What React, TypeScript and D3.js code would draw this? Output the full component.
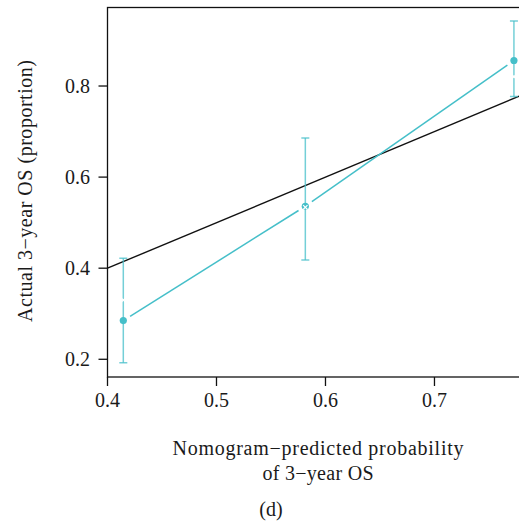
import React from "react";
import * as d3 from "d3";

const predicted = [0.4145, 0.5815, 0.7729];
const observed = [0.285, 0.536, 0.856];
const lower = [0.1925, 0.418, 0.777];
const upper = [0.422, 0.686, 0.943];
const apparent = [0.33, 0.5336, 0.8204];
const xTicks = [0.4, 0.5, 0.6, 0.7];
const yTicks = [0.2, 0.4, 0.6, 0.8];

const W = 519;
const H = 524;
const CYAN = "#45bfc9";
const FONT = "'Liberation Serif', 'Times New Roman', serif";

export default function App() {
  const x = d3.scaleLinear().domain([0.4, 0.787]).range([107.5, 529.3]);
  const y = d3.scaleLinear().domain([0.1611, 0.9724]).range([377, 7.5]);
  const [x0, x1] = x.range();
  const [yb, yt] = y.range();

  const pts = predicted.map((p, i) => ({ px: x(p), py: y(observed[i]) }));
  const gap = 8;
  const segs = pts.slice(0, -1).map((a, i) => {
    const b = pts[i + 1];
    const dx = b.px - a.px;
    const dy = b.py - a.py;
    const len = Math.hypot(dx, dy);
    const ux = dx / len;
    const uy = dy / len;
    return {
      x1: a.px + ux * gap,
      y1: a.py + uy * gap,
      x2: b.px - ux * gap,
      y2: b.py - uy * gap,
    };
  });

  const diag = d3.line<number>().x((v) => x(v)).y((v) => y(v));

  return (
    <svg
      width={W}
      height={H}
      style={{ position: "absolute", left: 0, top: 0, background: "#fff" }}
      fontFamily={FONT}
    >
      <defs>
        <clipPath id="plotclip">
          <rect x={x0} y={yt} width={x1 - x0} height={yb - yt} />
        </clipPath>
      </defs>
      <g clipPath="url(#plotclip)">
        <path d={diag([0.4, 0.787]) || ""} stroke="#111" strokeWidth={1.4} fill="none" />
        {segs.map((s, i) => (
          <line key={i} {...s} stroke={CYAN} strokeWidth={1.5} />
        ))}
        {predicted.map((p, i) => (
          <g key={i} stroke={CYAN} strokeOpacity={0.75} strokeWidth={1.5}>
            <line x1={x(p)} x2={x(p)} y1={y(lower[i])} y2={y(upper[i])} />
            <line x1={x(p) - 4} x2={x(p) + 4} y1={y(lower[i])} y2={y(lower[i])} />
            <line x1={x(p) - 4} x2={x(p) + 4} y1={y(upper[i])} y2={y(upper[i])} />
          </g>
        ))}
        {pts.map((p, i) => (
          <circle key={i} cx={p.px} cy={p.py} r={3.6} fill={CYAN} />
        ))}
        {predicted.map((p, i) => {
          const cx = x(p);
          const cy = y(apparent[i]);
          const s = 2.2;
          return (
            <g key={i} stroke="#fff" strokeWidth={1.2}>
              <line x1={cx - s} y1={cy - s} x2={cx + s} y2={cy + s} />
              <line x1={cx - s} y1={cy + s} x2={cx + s} y2={cy - s} />
            </g>
          );
        })}
      </g>
      <rect x={x0} y={yt} width={x1 - x0} height={yb - yt} fill="none" stroke="#111" strokeWidth={1.3} />
      {xTicks.map((t) => (
        <g key={t}>
          <line x1={x(t)} x2={x(t)} y1={yb} y2={yb + 9} stroke="#111" strokeWidth={1.3} />
          <text x={x(t)} y={407} textAnchor="middle" fontSize={20} fill="#1a1a1a">
            {t.toFixed(1)}
          </text>
        </g>
      ))}
      {yTicks.map((t) => (
        <g key={t}>
          <line x1={x0 - 9} x2={x0} y1={y(t)} y2={y(t)} stroke="#111" strokeWidth={1.3} />
          <text x={90} y={y(t)} dy="0.33em" textAnchor="end" fontSize={20} fill="#1a1a1a">
            {t.toFixed(1)}
          </text>
        </g>
      ))}
      <text x={318} y={455} textAnchor="middle" fontSize={20} fill="#1a1a1a" textLength={291} lengthAdjust="spacing">
        Nomogram−predicted probability
      </text>
      <text x={318} y={480} textAnchor="middle" fontSize={20} fill="#1a1a1a" textLength={111} lengthAdjust="spacing">
        of 3−year OS
      </text>
      <text
        transform={`translate(32, 191) rotate(-90)`}
        textAnchor="middle"
        fontSize={20}
        fill="#1a1a1a"
        textLength={262}
        lengthAdjust="spacing"
      >
        Actual 3−year OS (proportion)
      </text>
      <text x={271} y={516} textAnchor="middle" fontSize={20} fill="#1a1a1a">
        (d)
      </text>
    </svg>
  );
}
